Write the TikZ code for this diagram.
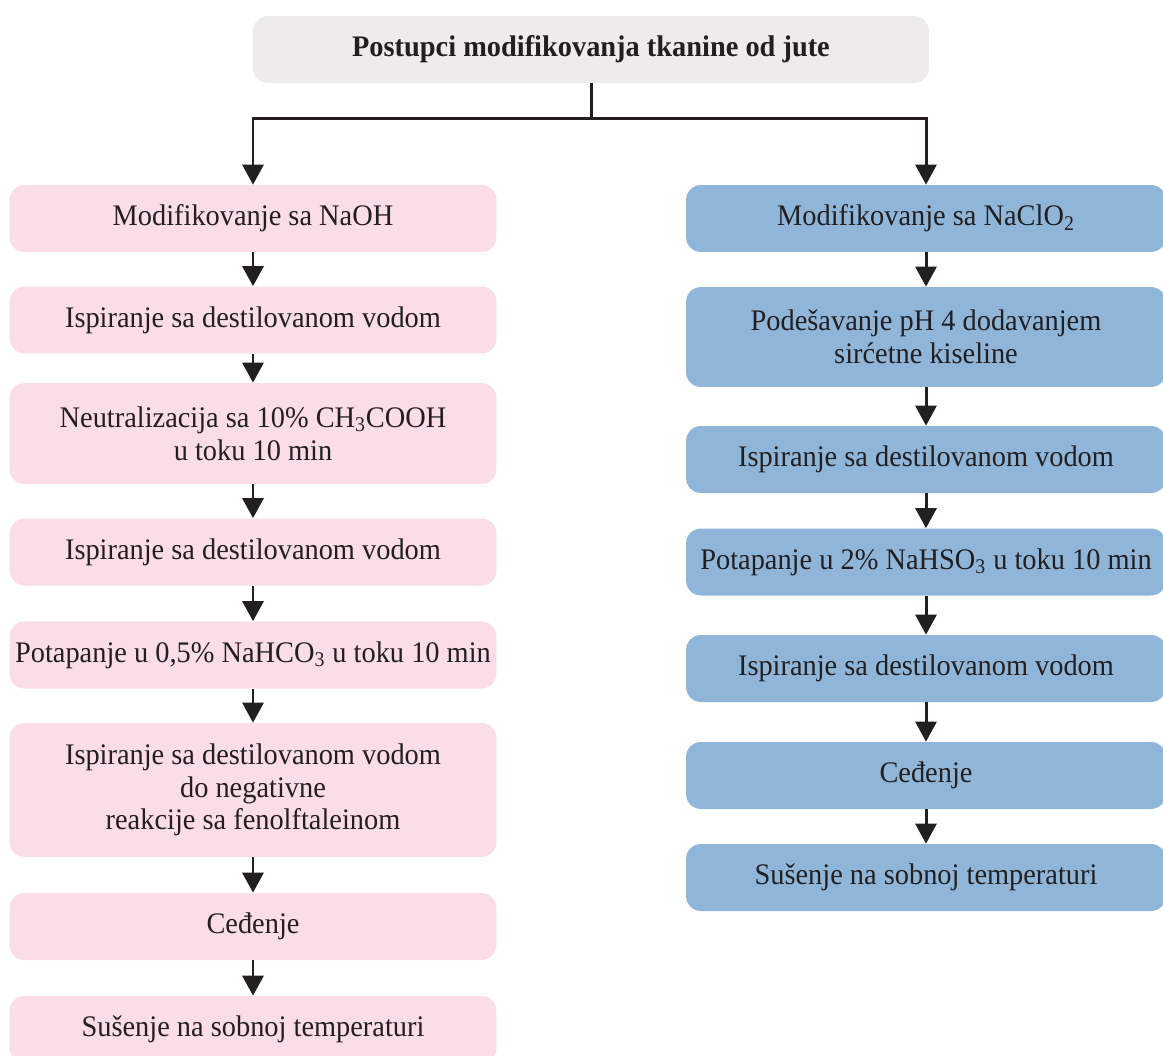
\documentclass[tikz,border=0pt]{standalone}
\usepackage{fontspec}
\setmainfont{Liberation Serif}[FakeStretch=0.95]
\usetikzlibrary{arrows.meta}

\definecolor{rosa}{HTML}{FADDE7}
\definecolor{plava}{HTML}{8FB6D9}
\definecolor{siva}{HTML}{EDEBEB}
\definecolor{txt}{HTML}{231F20}

\begin{document}
\begin{tikzpicture}[x=0.02cm,y=-0.02cm,
  box/.style={rounded corners=0.3cm, align=center, inner xsep=1pt, text=txt,
    font=\fontsize{17}{18.6}\selectfont, minimum height=1.34cm},
  lbox/.style={box, fill=rosa, minimum width=9.74cm},
  rbox/.style={box, fill=plava, minimum width=9.6cm},
  arr/.style={line width=1.7pt, draw=txt, -{Triangle[length=0.4cm,width=0.42cm]}}]

\useasboundingbox (0,0) rectangle (1163,1055);

\node [box, fill=siva, minimum width=13.52cm] (naslov) at (591,49.5) {\textbf{Postupci modifikovanja tkanine od jute}};

% NaOH
\node [lbox] (l1) at (253,218.5) {Modifikovanje sa NaOH};
\node [lbox] (l2) at (253,320) {Ispiranje sa destilovanom vodom};
\node [lbox, minimum height=2.02cm] (l3) at (253,433.5) {Neutralizacija sa 10\% CH\textsubscript{3}COOH\\u toku 10 min};
\node [lbox] (l4) at (253,552) {Ispiranje sa destilovanom vodom};
\node [lbox] (l5) at (253,655) {Potapanje u 0,5\% NaHCO\textsubscript{3} u toku 10 min};
\node [lbox, minimum height=2.68cm] (l6) at (253,790) {Ispiranje sa destilovanom vodom\\do negativne\\reakcije sa fenolftaleinom};
\node [lbox] (l7) at (253,926.5) {Ceđenje};
\node [lbox] (l8) at (253,1029.5) {Sušenje na sobnoj temperaturi};

% NaClO2
\node [rbox] (r1) at (926,218.5) {Modifikovanje sa NaClO\textsubscript{2}};
\node [rbox, minimum height=2cm] (r2) at (926,337) {Podešavanje pH 4 dodavanjem\\sirćetne kiseline};
\node [rbox] (r3) at (926,459.5) {Ispiranje sa destilovanom vodom};
\node [rbox] (r4) at (926,562) {Potapanje u 2\% NaHSO\textsubscript{3} u toku 10 min};
\node [rbox] (r5) at (926,668.5) {Ispiranje sa destilovanom vodom};
\node [rbox] (r6) at (926,775.5) {Ceđenje};
\node [rbox] (r7) at (926,877.5) {Sušenje na sobnoj temperaturi};

\draw[arr] (naslov.south) -- ++(0,35) -| (l1.north);
\draw[arr] (naslov.south) -- ++(0,35) -| (r1.north);

\draw[arr] (l1) -- (l2);
\draw[arr] (l2) -- (l3);
\draw[arr] (l3) -- (l4);
\draw[arr] (l4) -- (l5);
\draw[arr] (l5) -- (l6);
\draw[arr] (l6) -- (l7);
\draw[arr] (l7) -- (l8);

\draw[arr] (r1) -- (r2);
\draw[arr] (r2) -- (r3);
\draw[arr] (r3) -- (r4);
\draw[arr] (r4) -- (r5);
\draw[arr] (r5) -- (r6);
\draw[arr] (r6) -- (r7);

\end{tikzpicture}
\end{document}
